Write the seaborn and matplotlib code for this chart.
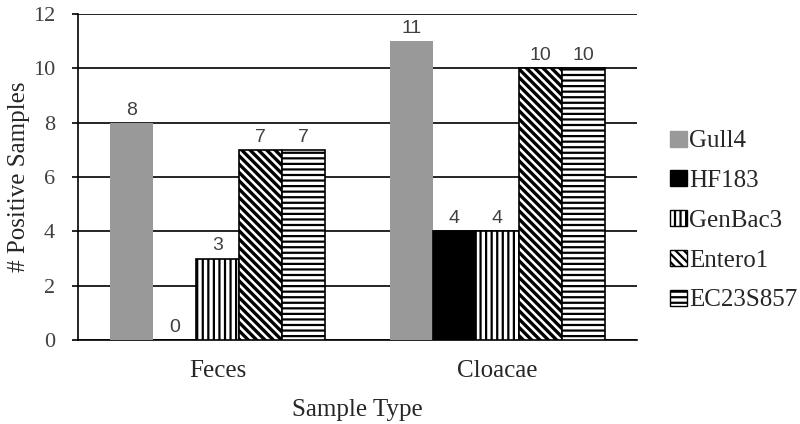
import pandas as pd
import numpy as np
import matplotlib
matplotlib.use('Agg')
import matplotlib.pyplot as plt
import seaborn as sns
from matplotlib.patches import Patch

# data
sample_types = ['Feces', 'Cloacae']
assays = ['Gull4', 'HF183', 'GenBac3', 'Entero1', 'EC23S857']
gull4 = [8, 11]
hf183 = [0, 4]
genbac3 = [3, 4]
entero1 = [7, 10]
ec23s857 = [7, 10]

df = pd.DataFrame({
    'Sample Type': sample_types * 5,
    'Assay': np.repeat(assays, 2),
    'Count': gull4 + hf183 + genbac3 + entero1 + ec23s857,
})

sns.set_style('white')
plt.rcParams['font.family'] = ['Liberation Serif', 'DejaVu Serif']
plt.rcParams['hatch.linewidth'] = 1.6

styles = {
    'Gull4': dict(color='#999999', hatch='', edge='none'),
    'HF183': dict(color='black', hatch='', edge='black'),
    'GenBac3': dict(color='white', hatch='|||', edge='black'),
    'Entero1': dict(color='white', hatch='\\\\\\\\', edge='black'),
    'EC23S857': dict(color='white', hatch='---', edge='black'),
}

fig = plt.figure(figsize=(8, 4.24), dpi=100)
ax = fig.add_axes([0.0975, 0.198, 0.699, 0.769])

sns.barplot(data=df, x='Sample Type', y='Count', hue='Assay', hue_order=assays,
            order=sample_types, ax=ax, width=0.77, legend=False, saturation=1)

for name, cont in zip(assays, ax.containers):
    st = styles[name]
    for bar in cont:
        bar.set_facecolor(st['color'])
        bar.set_hatch(st['hatch'])
        bar.set_edgecolor(st['edge'])
        bar.set_linewidth(1.2)
        bar.set_zorder(3)
        if name == 'Entero1' and hasattr(bar, 'set_hatch_linewidth'):
            bar.set_hatch_linewidth(2.4)
    ax.bar_label(cont, padding=3, fontsize=14, color='#404040',
                 family='Liberation Sans')

ax.set_ylim(0, 12)
ax.set_yticks(range(0, 13, 2))
ax.yaxis.grid(True, color='black', linewidth=1.2)
ax.set_axisbelow(True)
for s in ['top', 'right']:
    ax.spines[s].set_visible(False)
ax.spines['left'].set_color('black')
ax.spines['bottom'].set_color('black')
ax.spines['left'].set_linewidth(1.2)
ax.spines['bottom'].set_linewidth(1.2)
ax.tick_params(axis='y', left=True, length=4.5, width=1.2, color='black',
               labelsize=16, labelcolor='#404040', pad=12)
ax.tick_params(axis='x', bottom=False, labelsize=18, pad=11)
ax.set_xlabel('Sample Type', fontsize=18, labelpad=12)
ax.set_ylabel('# Positive Samples', fontsize=18, labelpad=2)

handles = [Patch(facecolor=styles[a]['color'], hatch=styles[a]['hatch'],
                 edgecolor=styles[a]['edge'] if styles[a]['edge'] != 'none' else styles[a]['color'])
           for a in assays]
fig.legend(handles, assays, loc='center left', bbox_to_anchor=(0.838, 0.479),
           frameon=False, fontsize=18, handlelength=0.65, handleheight=0.6,
           handletextpad=0.1, labelspacing=0.71, borderpad=0, borderaxespad=0)

plt.savefig('out.png', dpi=100)
